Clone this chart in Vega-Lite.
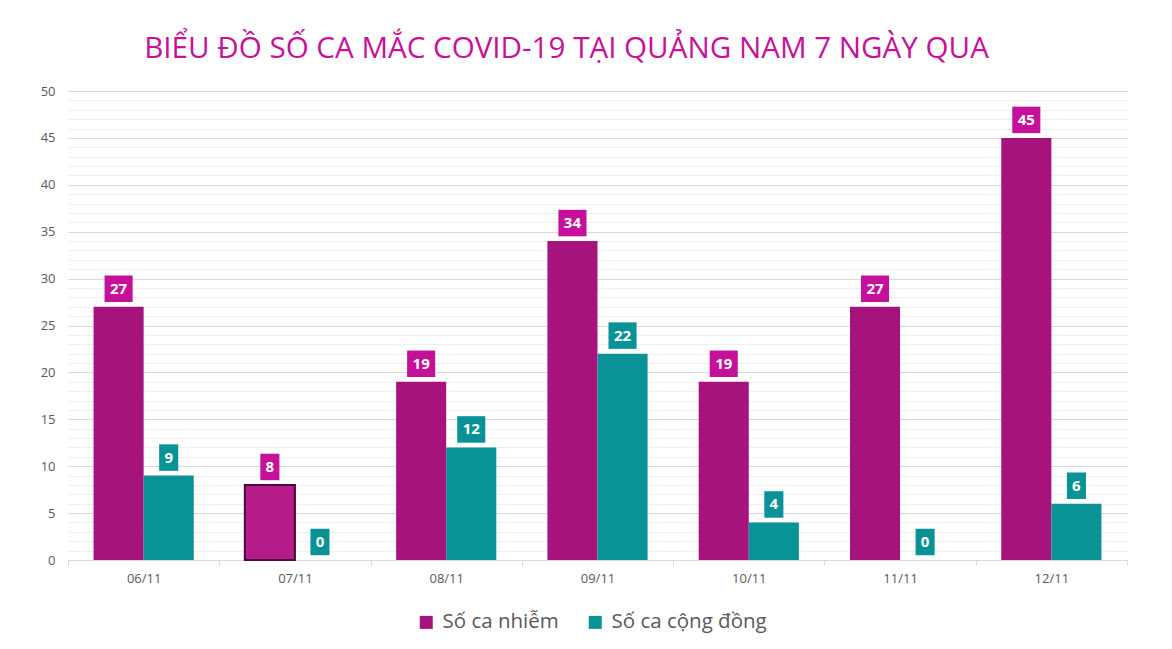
{
  "$schema": "https://vega.github.io/schema/vega-lite/v6.json",
  "width": 1059,
  "height": 469,
  "autosize": "none",
  "padding": {"left": 68, "top": 91, "right": 45, "bottom": 89},
  "background": "white",
  "title": {
    "text": "BIỂU ĐỒ SỐ CA MẮC COVID-19 TẠI QUẢNG NAM 7 NGÀY QUA",
    "anchor": "start",
    "dx": 104,
    "offset": 20,
    "font": "Open Sans",
    "fontSize": 29.6,
    "fontWeight": "normal",
    "color": "#C8119B"
  },
  "config": {"view": {"stroke": null}, "font": "Open Sans"},
  "data": {
    "values": [
      {"date": "06/11", "series": "Số ca nhiễm", "value": 27},
      {"date": "06/11", "series": "Số ca cộng đồng", "value": 9},
      {"date": "07/11", "series": "Số ca nhiễm", "value": 8},
      {"date": "07/11", "series": "Số ca cộng đồng", "value": 0},
      {"date": "08/11", "series": "Số ca nhiễm", "value": 19},
      {"date": "08/11", "series": "Số ca cộng đồng", "value": 12},
      {"date": "09/11", "series": "Số ca nhiễm", "value": 34},
      {"date": "09/11", "series": "Số ca cộng đồng", "value": 22},
      {"date": "10/11", "series": "Số ca nhiễm", "value": 19},
      {"date": "10/11", "series": "Số ca cộng đồng", "value": 4},
      {"date": "11/11", "series": "Số ca nhiễm", "value": 27},
      {"date": "11/11", "series": "Số ca cộng đồng", "value": 0},
      {"date": "12/11", "series": "Số ca nhiễm", "value": 45},
      {"date": "12/11", "series": "Số ca cộng đồng", "value": 6}
    ]
  },
  "encoding": {
    "x": {
      "field": "date",
      "type": "nominal",
      "sort": null,
      "scale": {"paddingInner": 0, "paddingOuter": 0},
      "axis": {
        "title": null,
        "labelAngle": 0,
        "tickBand": "extent",
        "domainColor": "#d9d9d9",
        "tickColor": "#d9d9d9",
        "tickSize": 5,
        "labelPadding": 7,
        "labelFontSize": 13,
        "labelColor": "#595959",
        "grid": false
      }
    },
    "xOffset": {"field": "series", "type": "nominal", "sort": ["Số ca nhiễm", "Số ca cộng đồng"], "scale": {"paddingInner": 0, "paddingOuter": 0.51}},
    "y": {
      "field": "value",
      "type": "quantitative",
      "scale": {"domain": [0, 50], "nice": false},
      "axis": {
        "title": null,
        "values": [0,1,2,3,4,5,6,7,8,9,10,11,12,13,14,15,16,17,18,19,20,21,22,23,24,25,26,27,28,29,30,31,32,33,34,35,36,37,38,39,40,41,42,43,44,45,46,47,48,49,50],
        "labelExpr": "datum.value % 5 === 0 ? datum.label : ''",
        "grid": true,
        "gridColor": {"condition": {"test": "datum.value % 5 === 0", "value": "#d9d9d9"}, "value": "#efefef"},
        "ticks": false,
        "domain": false,
        "labelPadding": 13,
        "labelFontSize": 13,
        "labelColor": "#595959"
      }
    }
  },
  "layer": [
    {
      "mark": {"type": "bar"},
      "encoding": {
        "fill": {
          "field": "series",
          "type": "nominal",
          "condition": {"test": "datum.date === '07/11' && datum.series === 'Số ca nhiễm'", "value": "#B51C8A"},
          "scale": {"domain": ["Số ca nhiễm", "Số ca cộng đồng"], "range": ["#A6137D", "#0A9396"]},
          "legend": {
            "title": null,
            "orient": "none",
            "legendX": 348,
            "legendY": 521,
            "direction": "horizontal",
            "labelFontSize": 20.5,
            "labelColor": "#595959",
            "labelOffset": 6,
            "symbolType": "square",
            "symbolSize": 169,
            "symbolStrokeWidth": 0,
            "columnPadding": 26
          }
        },
        "stroke": {"condition": {"test": "datum.date === '07/11' && datum.series === 'Số ca nhiễm'", "value": "#4a0a3a"}, "value": null},
        "strokeWidth": {"condition": {"test": "datum.date === '07/11' && datum.series === 'Số ca nhiễm'", "value": 2}, "value": 0}
      }
    },
    {
      "mark": {"type": "point", "filled": true, "opacity": 1, "yOffset": -18, "size": 702, "strokeWidth": 0},
      "encoding": {
        "shape": {"condition": {"test": "datum.value >= 10", "value": "M-1.06,-1H1.06V1H-1.06Z"}, "value": "M-0.72,-1H0.72V1H-0.72Z"},
        "color": {"condition": {"test": "datum.series === 'Số ca nhiễm'", "value": "#C5119A"}, "value": "#0A9396"}
      }
    },
    {
      "mark": {"type": "text", "yOffset": -18, "baseline": "middle", "align": "center", "color": "white", "fontWeight": "bold", "fontSize": 15, "font": "Open Sans"},
      "encoding": {"text": {"field": "value", "type": "quantitative"}}
    }
  ]
}
